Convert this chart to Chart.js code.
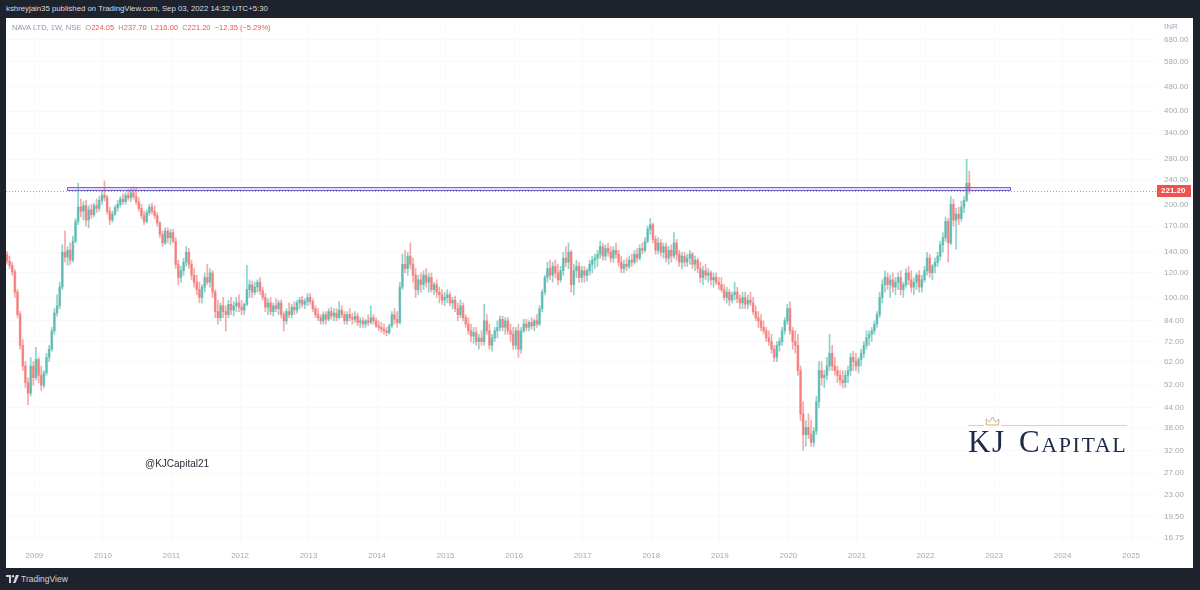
<!DOCTYPE html>
<html>
<head>
<meta charset="utf-8">
<script src="https://cdn.jsdelivr.net/npm/chart.js@4.4.0/dist/chart.umd.min.js"></script>
<style>
  html, body { margin: 0; padding: 0; }
  body { width: 1200px; height: 590px; background: #1e222d; position: relative; overflow: hidden;
         font-family: "Liberation Sans", Arial, sans-serif; }
  #topbar { position: absolute; left: 6px; top: 4px; font-size: 7.8px; color: #d8dbe2; white-space: nowrap; }
  #panel { position: absolute; left: 6px; top: 18px; width: 1187px; height: 550px; background: #fff; }
  #c { position: absolute; left: 0; top: 0; }
  #legend { position: absolute; left: 6px; top: 5px; font-size: 7.5px; color: #9598a1; white-space: pre; }
  #legend .v { color: #ef5350; }
  #handle { position: absolute; left: 139px; top: 440px; font-size: 10px; color: #2a2e39; }
  #kj { position: absolute; left: 962px; top: 408px; font-family: "Liberation Serif", serif; font-size: 31px;
        line-height: 31px; color: #1e2a47; font-variant: small-caps; letter-spacing: 1.6px; word-spacing: 4px; }
  .kjline { position: absolute; top: 407px; height: 1px; background: #dccfb4; }
  #crown { position: absolute; left: 979px; top: 398px; }
  #tv { position: absolute; left: 6px; top: 574px; font-size: 8.5px; color: #d1d4dc; }
  #tv svg { vertical-align: -1px; margin-right: 2px; }
</style>
</head>
<body>
<div id="topbar">kshreyjain35 published on TradingView.com, Sep 03, 2022 14:32 UTC+5:30</div>
<div id="panel">
  <canvas id="c" width="1187" height="550"></canvas>
  <div id="legend">NAVA LTD, 1W, NSE  O<span class="v">224.05</span>  H<span class="v">237.70</span>  L<span class="v">216.00</span>  C<span class="v">221.20</span>  <span class="v">−12.35 (−5.29%)</span></div>
  <div id="handle">@KJCapital21</div>
  <div class="kjline" style="left:962px; width:16px;"></div>
  <div class="kjline" style="left:995px; width:126px;"></div>
  <svg id="crown" width="15" height="10" viewBox="0 0 15 10">
    <polygon points="1.5,9 1,3 4.5,6 7.5,1 10.5,6 14,3 13.5,9" fill="none" stroke="#c9a96e" stroke-width="0.9"/>
  </svg>
  <div id="kj">KJ Capital</div>
</div>
<div id="tv"><svg width="13" height="8" viewBox="0 0 13 8"><path d="M0 0h5v8H3V2H0z" fill="#d1d4dc"/><circle cx="7" cy="1.2" r="1.2" fill="#d1d4dc"/><path d="M10 0h3l-3.5 8H7z" fill="#d1d4dc"/></svg>TradingView</div>

<script>
// bars are two weeks wide, [open, high, low, close]
const firstWeek = 2008.6;
const barStep = 1 / 26;

const bars2008 = [[138,141,128,131],[131,136,124,127],[127,130,118,121],[121,123,100,104],[104,106,86,88],[88,90,68,70],[70,73,58,60],[60,62,51,53],[53,55,45,49],[49,64,48,60],[60,62,52,55]];
const bars2009 = [[55,69,54,63],[63,64,53,56],[56,60,50,52],[52,58,51,57],[57,66,56,64],[64,70,62,68],[68,80,67,78],[78,92,76,89],[89,102,87,94],[94,112,92,108],[108,148,106,140],[140,164,130,135],[135,146,127,142],[142,150,128,132],[132,158,130,152],[152,180,150,176],[176,234,172,196],[196,208,182,190],[190,204,178,198],[198,206,170,178],[178,198,168,192],[192,200,180,185],[185,202,182,198],[198,208,188,194],[194,212,190,206],[206,222,200,214]];
const bars2010 = [[214,238,205,210],[210,214,186,190],[190,196,172,178],[178,190,175,186],[186,198,184,195],[195,206,190,200],[200,212,196,208],[208,216,200,204],[204,218,200,214],[214,224,206,210],[210,226,204,218],[218,228,208,212],[212,226,200,204],[204,210,190,194],[194,200,180,184],[184,190,172,176],[176,192,174,188],[188,200,184,196],[196,202,186,190],[190,198,180,184],[184,188,170,174],[174,176,156,160],[160,164,146,150],[150,168,148,164],[164,168,150,156],[156,166,148,162]];
const bars2011 = [[162,166,150,152],[152,156,124,128],[128,132,110,116],[116,126,112,122],[122,134,118,130],[130,146,126,140],[140,144,124,128],[128,132,114,118],[118,124,108,112],[112,118,102,106],[106,112,96,100],[100,110,96,108],[108,120,104,116],[116,128,110,112],[112,124,108,120],[120,122,100,104],[104,106,86,90],[90,98,82,86],[86,96,84,94],[94,100,86,90],[90,94,78,88],[88,98,86,95],[95,100,88,91],[91,97,87,94],[94,100,90,96],[96,102,90,93]];
const bars2012 = [[93,98,88,91],[91,96,88,95],[95,127,94,106],[106,114,100,110],[110,113,100,104],[104,112,102,108],[108,114,104,112],[112,116,102,105],[105,108,98,100],[100,103,90,93],[93,99,88,96],[96,100,88,90],[90,96,87,94],[94,99,90,92],[92,98,88,96],[96,98,86,88],[88,90,78,84],[84,92,82,90],[90,96,86,88],[88,95,86,93],[93,97,88,91],[91,98,89,96],[96,100,92,98],[98,101,93,95],[95,99,92,97],[97,103,94,100]];
const bars2013 = [[100,103,95,97],[97,99,90,92],[92,94,86,88],[88,92,84,86],[86,88,82,84],[84,90,82,88],[88,90,82,85],[85,92,84,90],[90,93,85,87],[87,92,84,89],[89,92,84,86],[86,97,85,91],[91,94,86,88],[88,90,82,84],[84,90,82,88],[88,92,84,86],[86,89,82,85],[85,90,83,87],[87,89,81,83],[83,86,80,84],[84,86,80,82],[82,85,80,84],[84,88,81,83],[83,94,82,86],[86,88,82,84],[84,86,80,81]];
const bars2014 = [[81,84,78,80],[80,83,77,79],[79,82,76,78],[78,80,75,77],[77,82,76,81],[81,90,80,88],[88,92,82,85],[85,90,80,83],[83,112,82,108],[108,138,106,128],[128,142,120,124],[124,140,118,136],[136,150,124,128],[128,134,112,118],[118,124,100,106],[106,118,102,114],[114,120,104,110],[110,122,106,118],[118,124,108,112],[112,120,104,116],[116,120,104,106],[106,112,102,110],[110,114,100,104],[104,108,96,102],[102,106,95,98],[98,104,94,100]];
const bars2015 = [[100,106,96,102],[102,104,94,96],[96,100,92,98],[98,101,90,92],[92,96,84,88],[88,98,86,94],[94,96,84,86],[86,88,80,82],[82,86,76,78],[78,82,72,75],[75,80,71,77],[77,80,70,72],[72,76,68,74],[74,78,70,72],[72,95,70,84],[84,88,76,78],[78,82,68,70],[70,76,67,74],[74,80,72,78],[78,84,74,80],[80,87,78,85],[85,87,78,80],[80,86,76,84],[84,86,76,78],[78,82,72,76],[76,80,68,70]];
const bars2016 = [[70,80,68,78],[78,82,64,68],[68,80,66,78],[78,85,77,82],[82,85,78,80],[80,84,78,83],[83,86,79,81],[81,85,78,84],[84,88,80,82],[82,94,81,92],[92,106,90,104],[104,118,102,116],[116,130,112,124],[124,132,114,118],[118,130,112,126],[126,132,116,120],[120,128,110,114],[114,126,112,122],[122,140,118,134],[134,146,126,130],[130,150,124,140],[140,142,104,110],[110,128,102,122],[122,132,116,126],[126,130,112,116],[116,126,112,122]];
const bars2017 = [[122,126,112,118],[118,124,113,122],[122,132,118,128],[128,136,120,132],[132,138,124,134],[134,142,126,138],[138,152,134,146],[146,150,132,136],[136,148,132,144],[144,150,136,140],[140,146,130,134],[134,146,130,142],[142,150,134,138],[138,142,126,130],[130,136,120,124],[124,132,120,128],[128,134,122,126],[126,136,124,132],[132,138,126,130],[130,142,128,138],[138,144,130,134],[134,148,132,144],[144,150,138,142],[142,156,140,152],[152,170,150,166],[166,180,160,172]];
const bars2018 = [[172,174,150,154],[154,158,138,142],[142,156,138,150],[150,154,136,140],[140,150,134,146],[146,150,130,134],[134,146,128,142],[142,148,130,136],[136,162,134,150],[150,154,132,138],[138,142,126,130],[130,140,124,136],[136,140,126,130],[130,138,126,134],[134,142,128,138],[138,140,124,128],[128,136,122,132],[132,134,120,124],[124,130,112,116],[116,126,110,122],[122,128,114,118],[118,124,112,120],[120,122,110,114],[114,120,108,116],[116,120,110,112],[112,116,106,110]];
const bars2019 = [[110,116,104,106],[106,110,98,100],[100,108,96,104],[104,106,94,98],[98,104,96,102],[102,112,98,104],[104,108,96,99],[99,102,92,96],[96,104,92,100],[100,104,92,95],[95,102,92,98],[98,104,94,96],[96,100,88,90],[90,94,84,86],[86,90,80,84],[84,88,78,80],[80,84,76,78],[78,80,72,74],[74,78,70,72],[72,76,66,68],[68,70,62,64],[64,72,62,70],[70,74,67,72],[72,80,70,78],[78,86,76,84],[84,95,82,92]];
const bars2020 = [[92,97,76,78],[78,80,68,72],[72,78,66,70],[70,76,56,58],[58,60,40,42],[42,46,32,36],[36,40,33,38],[38,42,35,36],[36,40,33,34],[34,38,33,37],[37,48,36,46],[46,62,44,58],[58,62,52,55],[55,58,51,56],[56,64,54,60],[60,76,58,66],[66,70,58,60],[60,64,56,58],[58,60,53,56],[56,58,52,54],[54,58,51,53],[53,58,51,56],[56,60,53,58],[58,66,56,64],[64,67,58,62],[62,66,58,60]];
const bars2021 = [[60,64,57,63],[63,68,60,66],[66,72,64,70],[70,78,68,74],[74,78,70,76],[76,80,72,78],[78,84,76,82],[82,90,80,88],[88,104,86,100],[100,114,96,110],[110,122,104,116],[116,120,106,110],[110,118,100,114],[114,120,104,108],[108,116,102,112],[112,120,106,116],[116,122,102,106],[106,112,100,110],[110,124,108,120],[120,126,110,114],[114,122,104,108],[108,116,102,112],[112,120,106,118],[118,122,104,108],[108,118,104,114],[114,126,112,122]];
const bars2022 = [[122,140,118,134],[134,138,116,120],[120,128,114,126],[126,134,120,130],[130,140,126,136],[136,152,132,148],[148,162,140,156],[156,182,152,176],[176,180,130,150],[150,212,148,200],[200,208,170,178],[178,194,143,186],[186,196,172,180],[180,205,176,196],[196,212,188,206],[206,280,204,234],[234,256,216,221.2]];

const years = [2009, 2010, 2011, 2012, 2013, 2014, 2015, 2016, 2017, 2018, 2019, 2020, 2021, 2022, 2023, 2024, 2025];
const priceTicks = [680, 580, 480, 400, 340, 280, 240, 200, 170, 140, 120, 100, 84, 72, 62, 52, 44, 38, 32, 27, 23, 19.5, 16.75];
const lastClose = 221.2;

// the drawn resistance box
const zoneFrom = 2009.476;
const zoneTo = 2023.232;
const zoneLow = 221.4;
const zoneHigh = 227.0;

const upColor = 'rgba(38,166,154,0.5)';
const downColor = 'rgba(239,83,80,0.5)';
const tickFont = { family: 'Liberation Sans', size: 8 };
const tickColor = '#a6a9b1';
const gridColor = '#f8f9fb';

const candles = [].concat(bars2008, bars2009, bars2010, bars2011, bars2012, bars2013, bars2014,
    bars2015, bars2016, bars2017, bars2018, bars2019, bars2020, bars2021, bars2022);
const colors = candles.map(c => c[3] >= c[0] ? upColor : downColor);
const wickData = candles.map((c, i) => ({ x: firstWeek + i * barStep, y: [c[2], c[1]] }));
const bodyData = candles.map((c, i) => ({ x: firstWeek + i * barStep, y: [c[0], c[3]] }));

const tvOverlay = {
    id: 'tvOverlay',
    beforeDatasetsDraw(chart) {
        const { ctx, chartArea, scales } = chart;
        const y = Math.round(scales.y.getPixelForValue(lastClose)) + 0.5;
        ctx.save();
        ctx.strokeStyle = 'rgba(239,83,80,0.75)';
        ctx.lineWidth = 1;
        ctx.setLineDash([1, 2]);
        ctx.beginPath();
        ctx.moveTo(chartArea.left, y);
        ctx.lineTo(chartArea.right, y);
        ctx.stroke();
        ctx.restore();
    },
    afterDatasetsDraw(chart) {
        const { ctx, scales } = chart;
        const x1 = scales.x.getPixelForValue(zoneFrom);
        const x2 = scales.x.getPixelForValue(zoneTo);
        const y1 = scales.y.getPixelForValue(zoneHigh);
        const y2 = scales.y.getPixelForValue(zoneLow);
        ctx.save();
        ctx.fillStyle = 'rgba(126,99,207,0.22)';
        ctx.fillRect(x1, y1, x2 - x1, y2 - y1);
        ctx.strokeStyle = '#7e63cf';
        ctx.lineWidth = 1;
        ctx.strokeRect(Math.round(x1) + 0.5, Math.round(y1) + 0.5, Math.round(x2 - x1), Math.round(y2 - y1));
        ctx.restore();
    },
    afterDraw(chart) {
        const { ctx, chartArea, scales } = chart;
        const y = scales.y.getPixelForValue(lastClose);
        ctx.save();
        ctx.fillStyle = '#ef5350';
        ctx.fillRect(chartArea.right, Math.round(y) - 6, 34, 12);
        ctx.fillStyle = '#ffffff';
        ctx.font = 'bold 8px "Liberation Sans"';
        ctx.textBaseline = 'middle';
        ctx.fillText(lastClose.toFixed(2), chartArea.right + 4, Math.round(y));
        ctx.fillStyle = tickColor;
        ctx.font = '8px "Liberation Sans"';
        ctx.fillText('INR', chartArea.right + 7, scales.y.getPixelForValue(680) - 13);
        ctx.restore();
    }
};

const ctx = document.getElementById('c').getContext('2d');
const chart = new Chart(ctx, {
    type: 'bar',
    data: {
        datasets: [{
            data: wickData,
            backgroundColor: colors,
            barThickness: 1,
            maxBarThickness: 1,
            grouped: false
        }, {
            data: bodyData,
            backgroundColor: colors,
            barThickness: 2,
            maxBarThickness: 2,
            grouped: false
        }]
    },
    options: {
        responsive: false,
        animation: false,
        layout: { padding: { top: 2, left: 0, right: 0, bottom: 0 } },
        plugins: { legend: { display: false }, tooltip: { enabled: false } },
        scales: {
            x: {
                type: 'linear',
                min: 2008.586,
                max: 2025.377,
                offset: false,
                grid: { color: gridColor, drawTicks: false, offset: false },
                border: { display: false },
                ticks: { font: tickFont, color: tickColor, padding: 6, autoSkip: false, maxRotation: 0,
                    callback: v => String(v) },
                afterBuildTicks: s => { s.ticks = years.map(v => ({ value: v })); },
                afterFit: s => { s.height = 23; s.paddingLeft = 0; s.paddingRight = 0; }
            },
            y: {
                type: 'logarithmic',
                position: 'right',
                min: 15.83,
                max: 789,
                grid: { color: gridColor, drawTicks: false },
                border: { display: false },
                ticks: { font: tickFont, color: tickColor, padding: 7, autoSkip: false,
                    callback: v => Number(v).toFixed(2) },
                afterBuildTicks: s => { s.ticks = priceTicks.map(v => ({ value: v })); },
                afterFit: s => { s.width = 36; s.paddingTop = 0; s.paddingBottom = 0; }
            }
        }
    },
    plugins: [tvOverlay]
});
</script>
</body>
</html>
